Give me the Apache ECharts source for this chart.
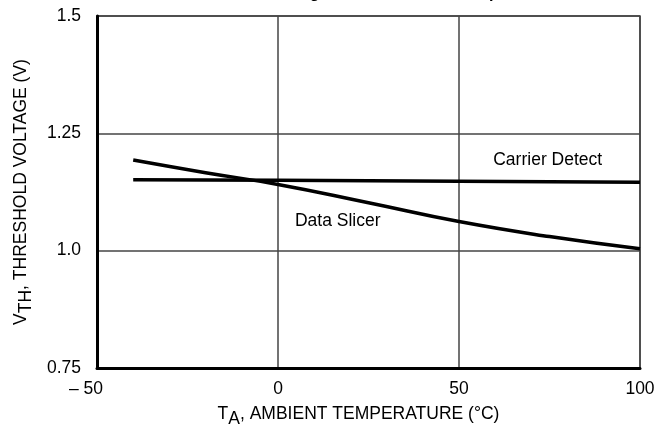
<!DOCTYPE html>
<html>
<head>
<meta charset="utf-8">
<script src="https://cdn.jsdelivr.net/npm/echarts@6/dist/echarts.min.js"></script>
<style>
  html, body { margin: 0; padding: 0; background: #fff; }
  #chart { width: 669px; height: 434px; }
</style>
</head>
<body>
<div id="chart"></div>
<script>
// temperatures (°C) and threshold voltages (V)
const carrierTemp = [-40, 0, 50, 100]
const carrierVolt = [1.151, 1.150, 1.148, 1.146]
const slicerTemp = [-40, -20, 0, 25, 50, 75, 100]
const slicerVolt = [1.193, 1.166, 1.141, 1.102, 1.062, 1.030, 1.004]

// tick labels
const xTicks = [-50, 0, 50, 100]
const xTickLabels = ['– 50', '0', '50', '100']
const yTicks = [0.75, 1.0, 1.25, 1.5]
const yTickLabels = ['0.75', '1.0', '1.25', '1.5']

// curve labels (placed in data space)
const curveLabels = [
  { text: 'Carrier Detect', temp: 74.5, volt: 1.193 },
  { text: 'Data Slicer', temp: 16.5, volt: 1.063 }
]

const FONT = '"Liberation Sans Narrow", "Liberation Sans", Arial, sans-serif'
const SIZE = 17.5

const chart = echarts.init(document.getElementById('chart'), null, { renderer: 'canvas' })

const pair = (xs, ys) => xs.map((x, i) => [x, ys[i]])

const curveLabel = item => ({
  symbol: 'circle',
  symbolSize: 1,
  itemStyle: { color: 'rgba(0,0,0,0)' },
  label: {
    show: true,
    position: 'inside',
    fontFamily: FONT,
    fontSize: SIZE,
    color: '#000',
    formatter: p => p.name
  },
  data: [{ name: item.text, coord: [item.temp, item.volt] }]
})

chart.setOption({
  animation: false,
  backgroundColor: '#fff',
  // title sits above the canvas; only its descenders show, as in the scan
  title: {
    text: 'Threshold Voltage versus Ambient Temperature',
    left: 190,
    top: -14,
    padding: 0,
    textStyle: { fontFamily: FONT, fontSize: 16, fontWeight: 'bold', color: '#000' }
  },
  grid: {
    left: 97,
    right: 29,
    top: 16,
    bottom: 66,
    show: true,
    borderColor: '#444',
    borderWidth: 1.5
  },
  xAxis: {
    type: 'value',
    min: -50,
    max: 100,
    interval: 50,
    name: '{t|T}{sub|A}{t|, AMBIENT TEMPERATURE (°C)}',
    nameLocation: 'middle',
    nameGap: 32,
    nameTextStyle: {
      padding: [0, 20, 0, 0],
      rich: {
        t: { fontFamily: FONT, fontSize: SIZE, color: '#000' },
        sub: { fontFamily: FONT, fontSize: SIZE, color: '#000', padding: [10, 0, 0, 0] }
      }
    },
    axisLine: { onZero: false, lineStyle: { color: '#000', width: 3 } },
    axisTick: { show: false },
    splitLine: { lineStyle: { color: '#444', width: 1.5 } },
    axisLabel: {
      margin: 12,
      fontFamily: FONT,
      fontSize: SIZE,
      color: '#000',
      formatter: v => {
        const i = xTicks.indexOf(v)
        if (i === 0) return '{neg|' + xTickLabels[i] + '}'
        return i >= 0 ? xTickLabels[i] : ''
      },
      rich: {
        neg: { fontFamily: FONT, fontSize: SIZE, color: '#000', padding: [0, 22, 0, 0] }
      }
    }
  },
  yAxis: {
    type: 'value',
    min: 0.75,
    max: 1.5,
    interval: 0.25,
    name: '{t|V}{sub|TH}{t|, THRESHOLD VOLTAGE (V)}',
    nameLocation: 'middle',
    nameGap: 62,
    nameTextStyle: {
      rich: {
        t: { fontFamily: FONT, fontSize: SIZE, color: '#000' },
        sub: { fontFamily: FONT, fontSize: SIZE, color: '#000', padding: [10, 0, 0, 0] }
      }
    },
    axisLine: { show: true, onZero: false, lineStyle: { color: '#000', width: 3 } },
    axisTick: { show: false },
    splitLine: { lineStyle: { color: '#444', width: 1.5 } },
    axisLabel: {
      margin: 16,
      fontFamily: FONT,
      fontSize: SIZE,
      color: '#000',
      formatter: v => {
        const i = yTicks.findIndex(t => Math.abs(t - v) < 1e-9)
        return i >= 0 ? yTickLabels[i] : ''
      }
    }
  },
  series: [
    {
      name: 'Carrier Detect',
      type: 'line',
      data: pair(carrierTemp, carrierVolt),
      showSymbol: false,
      lineStyle: { color: '#000', width: 3.5 },
      markPoint: curveLabel(curveLabels[0])
    },
    {
      name: 'Data Slicer',
      type: 'line',
      data: pair(slicerTemp, slicerVolt),
      smooth: true,
      showSymbol: false,
      lineStyle: { color: '#000', width: 3.5 },
      markPoint: curveLabel(curveLabels[1])
    }
  ]
})
</script>
</body>
</html>
